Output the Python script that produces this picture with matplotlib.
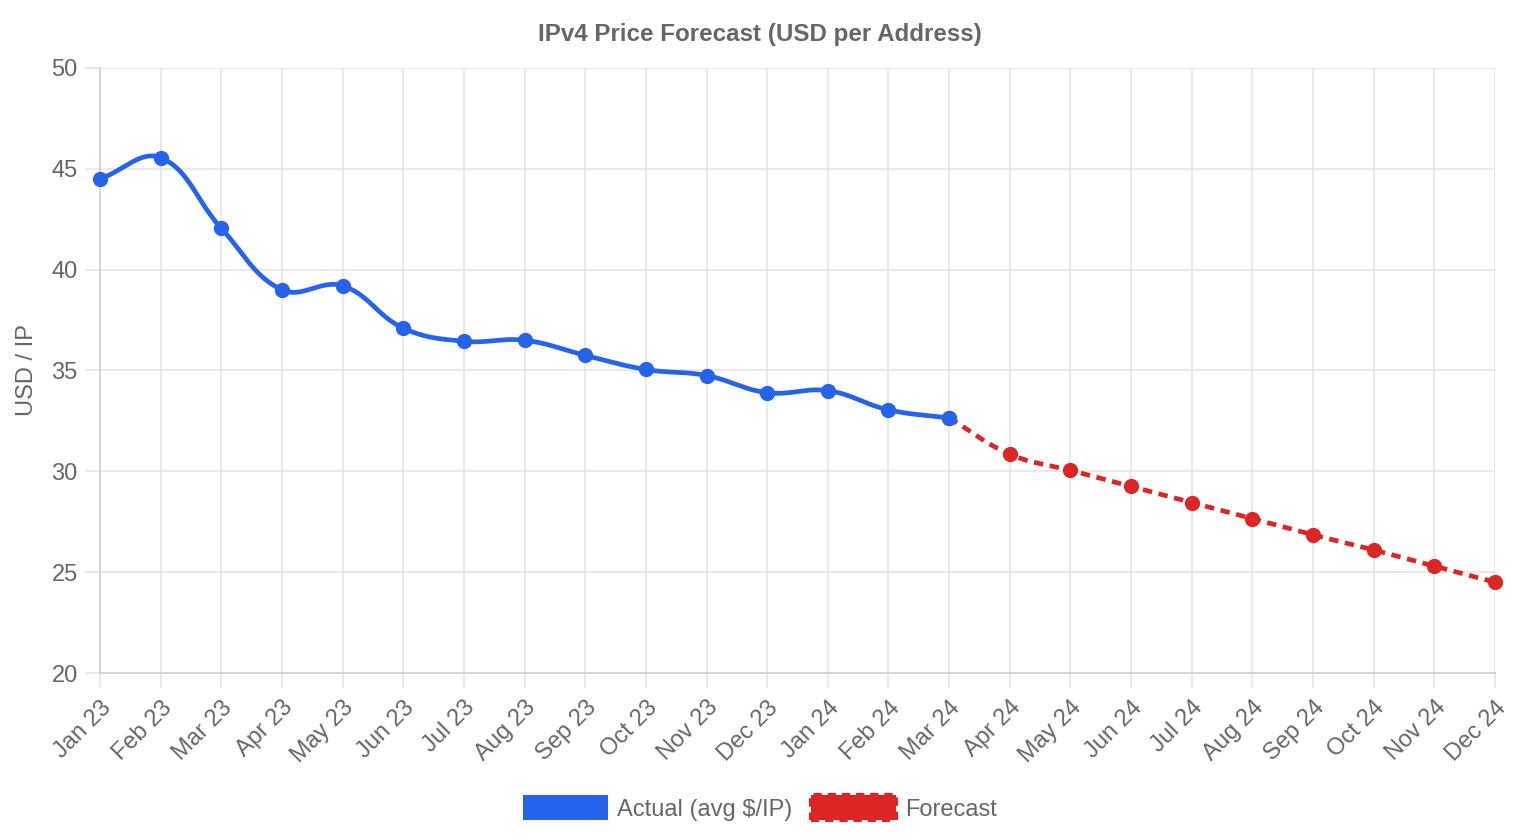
import numpy as np
import matplotlib
matplotlib.use('Agg')
import matplotlib.pyplot as plt
from matplotlib.patches import Rectangle
from matplotlib.transforms import ScaledTranslation

plt.rcParams['font.family'] = ['Liberation Sans', 'DejaVu Sans']

# dane z wykresu
months = ['Jan 23', 'Feb 23', 'Mar 23', 'Apr 23', 'May 23', 'Jun 23', 'Jul 23', 'Aug 23',
          'Sep 23', 'Oct 23', 'Nov 23', 'Dec 23', 'Jan 24', 'Feb 24', 'Mar 24', 'Apr 24',
          'May 24', 'Jun 24', 'Jul 24', 'Aug 24', 'Sep 24', 'Oct 24', 'Nov 24', 'Dec 24']
actual = [44.5, 45.55, 42.05, 39.0, 39.2, 37.1, 36.45, 36.5, 35.75, 35.05, 34.75, 33.9, 34.0, 33.05, 32.65]
forecast = [32.65, 30.85, 30.05, 29.25, 28.45, 27.65, 26.85, 26.1, 25.3, 24.5]
forecast_start = 14

blue = '#2563eb'
red = '#dc2626'
gray = '#666666'
fs = 17

# skala pikseli (do krzywej jak w chart.js, tension 0.4)
px_x = 60.65
px_y = 20.17


def spline(xs, ys, t=0.4, n=30):
    X = np.array(xs, float) * px_x
    Y = np.array(ys, float) * px_y
    m = len(X)
    cp_prev = []
    cp_next = []
    for i in range(m):
        p = max(i - 1, 0)
        q = min(i + 1, m - 1)
        d01 = np.hypot(X[i] - X[p], Y[i] - Y[p])
        d12 = np.hypot(X[q] - X[i], Y[q] - Y[i])
        tot = d01 + d12
        s01 = d01 / tot if tot else 0
        s12 = d12 / tot if tot else 0
        fa, fb = t * s01, t * s12
        cp_prev.append((X[i] - fa * (X[q] - X[p]), Y[i] - fa * (Y[q] - Y[p])))
        cp_next.append((X[i] + fb * (X[q] - X[p]), Y[i] + fb * (Y[q] - Y[p])))
    outx, outy = [X[0]], [Y[0]]
    u = np.linspace(0, 1, n)[1:]
    for i in range(m - 1):
        p0 = (X[i], Y[i]); p1 = cp_next[i]; p2 = cp_prev[i + 1]; p3 = (X[i + 1], Y[i + 1])
        bx = (1 - u) ** 3 * p0[0] + 3 * (1 - u) ** 2 * u * p1[0] + 3 * (1 - u) * u ** 2 * p2[0] + u ** 3 * p3[0]
        by = (1 - u) ** 3 * p0[1] + 3 * (1 - u) ** 2 * u * p1[1] + 3 * (1 - u) * u ** 2 * p2[1] + u ** 3 * p3[1]
        outx.extend(bx); outy.extend(by)
    return np.array(outx) / px_x, np.array(outy) / px_y


fig = plt.figure(figsize=(15.2, 8.4), dpi=100)
ax = fig.add_axes([100 / 1520, 1 - 673 / 840, 1395 / 1520, 605 / 840])

xa = np.arange(len(actual))
xf = np.arange(forecast_start, forecast_start + len(forecast))

sx, sy = spline(xf, forecast)
ax.plot(sx, sy, color=red, lw=3.4, linestyle=(0, (2.0, 1.4)), solid_capstyle='butt', zorder=3, clip_on=False)
ax.plot(xf, forecast, 'o', color=red, ms=10, zorder=4, clip_on=False)

sx, sy = spline(xa, actual)
ax.plot(sx, sy, color=blue, lw=3.4, solid_capstyle='round', zorder=5, clip_on=False)
ax.plot(xa, actual, 'o', color=blue, ms=10, zorder=6, clip_on=False)

ax.set_xlim(0, len(months) - 1)
ax.set_ylim(20, 50)
ax.set_yticks(range(20, 51, 5))
ax.set_xticks(range(len(months)))
ax.set_xticklabels(months, rotation=45, ha='right', va='top', rotation_mode='anchor')
przes = ScaledTranslation(5 / 100, -2 / 100, fig.dpi_scale_trans)
for lbl in ax.get_xticklabels():
    lbl.set_transform(lbl.get_transform() + przes)

ax.grid(True, color='#e3e3e3', lw=1.1)
ax.set_axisbelow(True)
for s in ['top', 'right']:
    ax.spines[s].set_visible(False)
for s in ['left', 'bottom']:
    ax.spines[s].set_color('#cccccc')
    ax.spines[s].set_linewidth(1.1)
ax.tick_params(axis='both', colors='#e3e3e3', labelcolor=gray, labelsize=fs, length=11, width=1.1)
ax.tick_params(axis='y', pad=5)
ax.tick_params(axis='x', pad=6)

ax.set_ylabel('USD / IP', color=gray, fontsize=fs, labelpad=10)
fig.text(0.5, 1 - 34 / 840, 'IPv4 Price Forecast (USD per Address)', ha='center', va='center',
         fontsize=17.4, fontweight='bold', color=gray)

h1 = Rectangle((0, 0), 1, 1, facecolor=blue, edgecolor=blue, lw=0)
h2 = Rectangle((0, 0), 1, 1, facecolor=red, edgecolor=red, lw=3, linestyle=(0, (2.0, 1.4)))
leg = fig.legend([h1, h2], ['Actual (avg $/IP)', 'Forecast'], loc='center', bbox_to_anchor=(0.5, 1 - 808 / 840),
                 ncol=2, frameon=False, fontsize=fs, handlelength=3.6, handleheight=1.25,
                 handletextpad=0.38, columnspacing=0.8, labelcolor=gray)

fig.savefig('out.png', dpi=100)
